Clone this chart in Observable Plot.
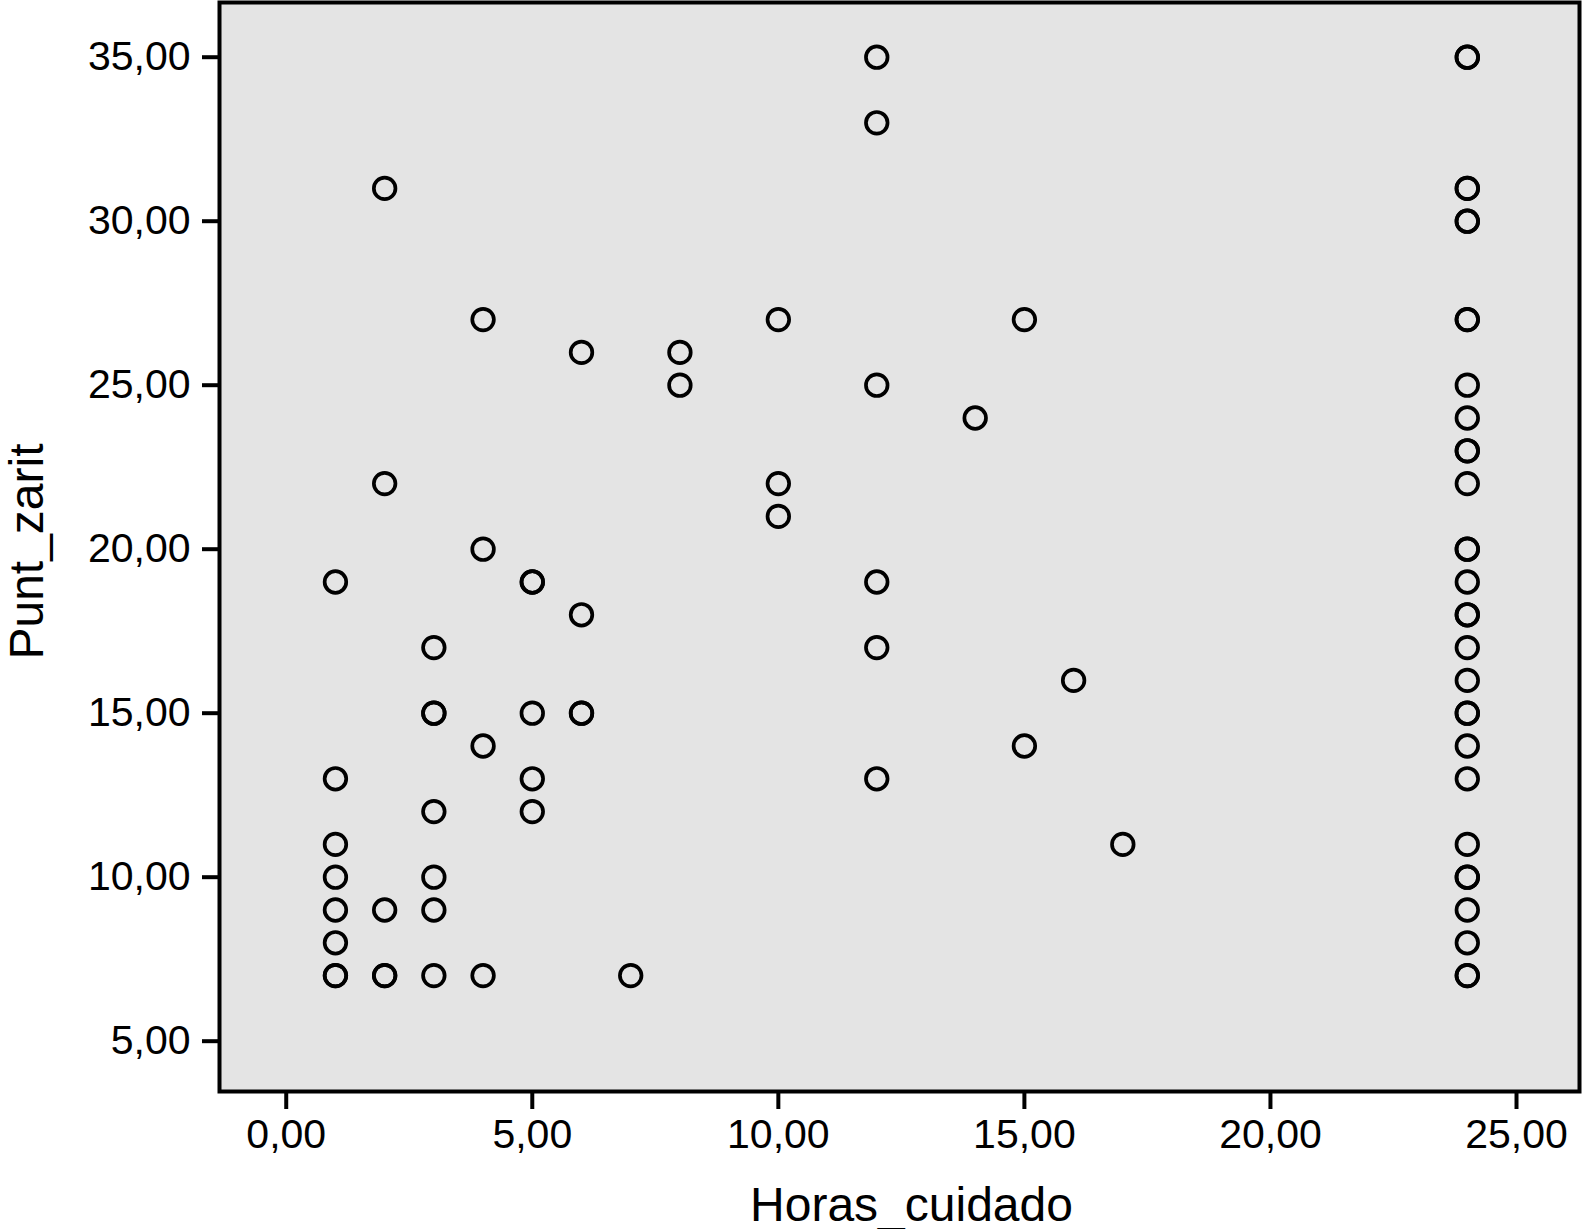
<!DOCTYPE html>
<html><head><meta charset="utf-8">
<script src="https://cdn.jsdelivr.net/npm/d3@7"></script>
<script src="https://cdn.jsdelivr.net/npm/@observablehq/plot@0.6"></script>
<style>body{margin:0;background:#fff} svg{display:block}</style>
</head><body><div id="chart"></div>
<script>
const horas = [
  1,1,1,1,1,1,1,1,
  2,2,2,2,2,
  3,3,3,3,3,3,3,
  4,4,4,4,
  5,5,5,5,5,
  6,6,6,6,
  7,
  8,8,
  10,10,10,
  12,12,12,12,12,12,
  14,
  15,15,
  16,
  17,
  24,24,24,24,24,24,24,24,24,24,24,24,24,24,24,24,24,24,24,24,24,24,24,24,24,24,24,24,24,24,24
];
const zarit = [
  19,13,11,10,9,8,7,7,
  31,22,9,7,7,
  17,15,15,12,10,9,7,
  27,20,14,7,
  19,19,15,13,12,
  26,18,15,15,
  7,
  26,25,
  27,22,21,
  35,33,25,19,17,13,
  24,
  27,14,
  16,
  11,
  35,35,31,31,30,30,27,27,25,24,23,23,22,20,20,19,18,18,17,16,15,15,14,13,11,10,10,9,8,7,7
];
const xTicks = [0, 5, 10, 15, 20, 25];
const yTicks = [5, 10, 15, 20, 25, 30, 35];
const xTitle = "Horas_cuidado";
const yTitle = "Punt_zarit";

const data = horas.map((h, i) => ({h, z: zarit[i]}));
const fmt = d => d.toFixed(2).replace(".", ",");

const chart = Plot.plot({
  width: 1583, height: 1229,
  marginLeft: 219, marginRight: 4, marginTop: 2, marginBottom: 138,
  style: {fontFamily: "'Liberation Sans', Arial, Helvetica, sans-serif", background: "white", color: "black"},
  x: {domain: [-1.356, 26.28]},
  y: {domain: [3.466, 36.668]},
  marks: [
    Plot.frame({fill: "#e4e4e4", stroke: "none"}),
    Plot.axisX(xTicks, {tickSize: 18, tickPadding: 9, strokeWidth: 4, fontSize: 41, tickFormat: fmt, label: null}),
    Plot.axisY(yTicks, {tickSize: 17, tickPadding: 12, strokeWidth: 4, fontSize: 41, tickFormat: fmt, label: null}),
    Plot.dot(data, {x: "h", y: "z", r: 10.8, stroke: "black", strokeWidth: 3.7, fill: "none"}),
    Plot.frame({stroke: "black", strokeWidth: 4}),
    Plot.text([xTitle], {frameAnchor: "bottom", text: d => d, dx: 12, dy: 129, textAnchor: "middle", lineAnchor: "bottom", fontSize: 48}),
    Plot.text([yTitle], {frameAnchor: "left", text: d => d, rotate: -90, dx: -177, dy: 4.5, textAnchor: "middle", lineAnchor: "bottom", fontSize: 48})
  ]
});
document.getElementById("chart").append(chart);
</script>
</body></html>
